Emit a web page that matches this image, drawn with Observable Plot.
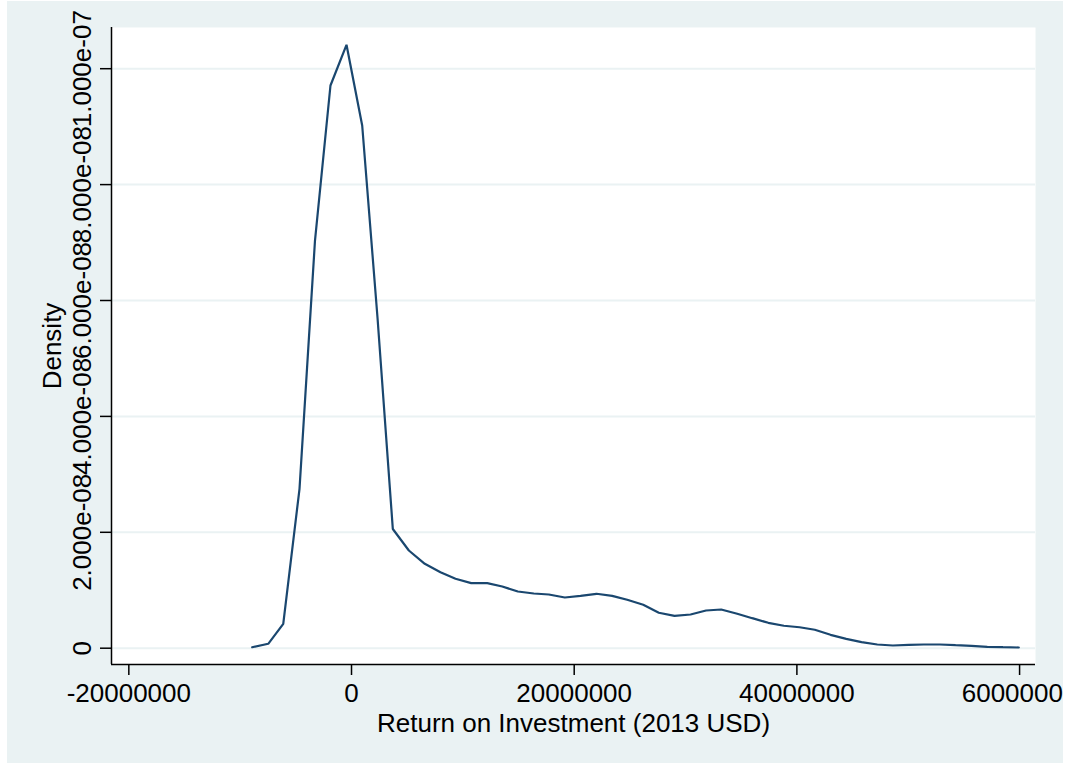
<!DOCTYPE html>
<html>
<head>
<meta charset="utf-8">
<script src="https://cdn.jsdelivr.net/npm/d3@7"></script>
<script src="https://cdn.jsdelivr.net/npm/@observablehq/plot@0.6"></script>
<style>
  html, body { margin: 0; padding: 0; background: #ffffff; }
  #chart { position: absolute; left: 7px; top: 1px; }
  #chart svg { overflow: hidden; }
</style>
</head>
<body>
<div id="chart"></div>
<script>
// Return on investment (2013 USD) at each kernel density evaluation point
const roi = [
  -8.92e6, -7.48e6, -6.13e6, -4.67e6, -3.28e6, -1.89e6, -0.45e6, 0.96e6, 2.34e6, 3.71e6,
  5.15e6, 6.58e6, 7.99e6, 9.34e6, 10.75e6, 12.19e6, 13.54e6, 14.94e6, 16.37e6, 17.72e6,
  19.16e6, 20.57e6, 22.00e6, 23.41e6, 24.76e6, 26.20e6, 27.60e6, 29.01e6, 30.45e6, 31.84e6,
  33.20e6, 34.64e6, 35.99e6, 37.43e6, 38.83e6, 40.24e6, 41.61e6, 43.02e6, 44.43e6, 45.81e6,
  47.22e6, 48.62e6, 50.05e6, 51.40e6, 52.84e6, 54.25e6, 55.68e6, 57.10e6, 58.50e6, 59.93e6
];
// Estimated density at each point
const density = [
  0.017e-8, 0.076e-8, 0.421e-8, 2.751e-8, 7.035e-8, 9.710e-8, 10.412e-8, 9.020e-8, 5.689e-8, 2.057e-8,
  1.686e-8, 1.456e-8, 1.311e-8, 1.198e-8, 1.122e-8, 1.122e-8, 1.065e-8, 0.978e-8, 0.944e-8, 0.927e-8,
  0.875e-8, 0.904e-8, 0.939e-8, 0.904e-8, 0.835e-8, 0.749e-8, 0.611e-8, 0.559e-8, 0.582e-8, 0.651e-8,
  0.668e-8, 0.594e-8, 0.518e-8, 0.438e-8, 0.387e-8, 0.362e-8, 0.318e-8, 0.231e-8, 0.162e-8, 0.104e-8,
  0.064e-8, 0.047e-8, 0.059e-8, 0.064e-8, 0.064e-8, 0.052e-8, 0.041e-8, 0.024e-8, 0.017e-8, 0.012e-8
];

const xTicks = [-20000000, 0, 20000000, 40000000, 60000000];
const xTickLabels = ["-20000000", "0", "20000000", "40000000", "60000000"];
const yTicks = [0, 2e-8, 4e-8, 6e-8, 8e-8, 1e-7];
const yTickLabels = ["0", "2.000e-08", "4.000e-08", "6.000e-08", "8.000e-08", "1.000e-07"];

const xLabel = "Return on Investment (2013 USD)";
const yLabel = "Density";

const xDomain = [-21.556e6, 61.43e6];
const yDomain = [-0.2813e-8, 10.711e-8];

const data = roi.map((x, i) => ({roi: x, density: density[i]}));

const fontFamily = "'Liberation Sans', Arial, Helvetica, sans-serif";

const chart = Plot.plot({
  width: 1056,
  height: 762,
  marginLeft: 104,
  marginRight: 28,
  marginTop: 26,
  marginBottom: 99,
  style: {
    background: "#eaf2f3",
    fontFamily,
    fontSize: "26px",
    color: "#000000",
    overflow: "hidden"
  },
  x: {domain: xDomain, label: null},
  y: {domain: yDomain, label: null},
  marks: [
    Plot.frame({fill: "#ffffff", stroke: "none"}),
    Plot.gridY(yTicks, {stroke: "#eaf2f3", strokeOpacity: 1, strokeWidth: 2}),
    Plot.line(data, {x: "roi", y: "density", stroke: "#1a476f", strokeWidth: 2.2, strokeLinejoin: "miter"}),
    Plot.ruleX([xDomain[0]], {stroke: "#000000", strokeWidth: 1.5}),
    Plot.ruleY([yDomain[0]], {stroke: "#000000", strokeWidth: 1.5}),
    Plot.axisX({
      ticks: xTicks,
      tickSize: 11,
      tickPadding: 8,
      tickFormat: d => xTickLabels[xTicks.indexOf(d)],
      label: null,
      strokeWidth: 1.5
    }),
    Plot.axisY({
      ticks: yTicks,
      tickSize: 11,
      tickPadding: 10,
      tickRotate: -90,
      textAnchor: "middle",
      lineAnchor: "bottom",
      tickFormat: d => yTickLabels[yTicks.indexOf(d)],
      label: null,
      strokeWidth: 1.5
    }),
    Plot.text([xLabel], {frameAnchor: "bottom", dy: 67, lineAnchor: "bottom", textAnchor: "middle", fontSize: 26}),
    Plot.text([yLabel], {frameAnchor: "left", dx: -51, rotate: -90, lineAnchor: "bottom", textAnchor: "middle", fontSize: 26})
  ]
});

document.getElementById("chart").appendChild(chart);
</script>
</body>
</html>
